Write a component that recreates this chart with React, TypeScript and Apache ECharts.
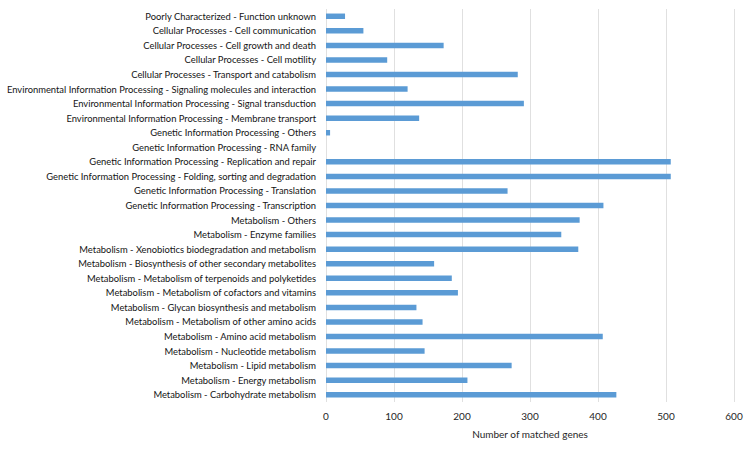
import React, { useEffect, useRef } from "react";
import * as echarts from "echarts";

const categories = [
  "Poorly Characterized - Function unknown",
  "Cellular Processes - Cell communication",
  "Cellular Processes - Cell growth and death",
  "Cellular Processes - Cell motility",
  "Cellular Processes - Transport and catabolism",
  "Environmental Information Processing - Signaling molecules and interaction",
  "Environmental Information Processing - Signal transduction",
  "Environmental Information Processing - Membrane transport",
  "Genetic Information Processing - Others",
  "Genetic Information Processing - RNA family",
  "Genetic Information Processing - Replication and repair",
  "Genetic Information Processing - Folding, sorting and degradation",
  "Genetic Information Processing - Translation",
  "Genetic Information Processing - Transcription",
  "Metabolism - Others",
  "Metabolism - Enzyme families",
  "Metabolism - Xenobiotics biodegradation and metabolism",
  "Metabolism - Biosynthesis of other secondary metabolites",
  "Metabolism - Metabolism of terpenoids and polyketides",
  "Metabolism - Metabolism of cofactors and vitamins",
  "Metabolism - Glycan biosynthesis and metabolism",
  "Metabolism - Metabolism of other amino acids",
  "Metabolism - Amino acid metabolism",
  "Metabolism - Nucleotide metabolism",
  "Metabolism - Lipid metabolism",
  "Metabolism - Energy metabolism",
  "Metabolism - Carbohydrate metabolism",
];

const matchedGenes = [
  28, 55, 173, 90, 282, 120, 291, 137, 6, 0, 507, 507, 267, 408, 373, 346, 371,
  159, 185, 194, 133, 142, 407, 145, 273, 208, 427,
];

const xAxisTitle = "Number of matched genes";

export default function App() {
  const ref = useRef<HTMLDivElement>(null);
  useEffect(() => {
    document.body.style.margin = "0";
    if (!ref.current) return;
    const chart = echarts.init(ref.current, null, { renderer: "svg" });
    const font = "Lato, 'Open Sans', sans-serif";
    chart.setOption({
      animation: false,
      backgroundColor: "#ffffff",
      grid: {
        left: 326,
        right: 16,
        top: 9,
        bottom: 48,
        containLabel: false,
        outerBoundsMode: "none",
      },
      xAxis: {
        type: "value",
        min: 0,
        max: 600,
        interval: 100,
        name: xAxisTitle,
        nameLocation: "middle",
        nameGap: 27,
        nameTextStyle: { color: "#262626", fontSize: 10, fontFamily: font },
        axisLine: { show: false },
        axisTick: { show: false },
        axisLabel: { color: "#262626", fontSize: 10, fontFamily: font, margin: 9 },
        splitLine: { show: true, lineStyle: { color: "#e0e0e0", width: 1 } },
      },
      yAxis: {
        type: "category",
        data: categories,
        inverse: true,
        axisLine: { show: false },
        axisTick: { show: false },
        axisLabel: { color: "#141414", fontSize: 9.4, fontFamily: font, margin: 10 },
      },
      series: [
        {
          type: "bar",
          data: matchedGenes,
          barWidth: 5.5,
          itemStyle: { color: "#5b9bd5" },
        },
      ],
    });
    return () => chart.dispose();
  }, []);
  return <div ref={ref} style={{ width: 750, height: 450 }} />;
}
